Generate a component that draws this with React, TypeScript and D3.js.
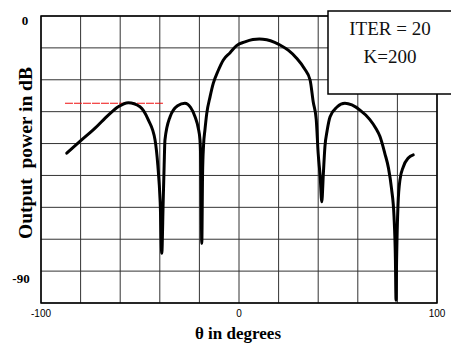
import React from "react";
import * as d3 from "d3";

const theta = [
  -87, -79.5, -72.7, -66, -61, -55.9, -50, -45.8, -42.4, -41, -39.8, -39, -38.3, -37.8, -37.4,
  -34.8, -31, -27.3, -24.5, -22.2, -20.6, -19.7, -19.2, -18.8, -18.4, -17.9, -17.2, -16.3,
  -14.6, -13, -10.5, -7.9, -4.5, -1.2, 3, 7, 10.3, 14, 18, 20.7, 25, 29.1, 33, 35.9, 37.5, 39, 40,
  41, 41.8, 42.6, 43.4, 44.5, 46, 49.5, 53.5, 57, 61.1, 66, 69, 71.2, 73.7, 75.5, 77, 78.3, 79, 79.3,
  79.6, 80.3, 81.3, 83, 85.5, 88,
];
const powerDb = [
  -47.8, -43.2, -39.1, -34.5, -31.6, -30.2, -31.6, -36.2, -43.2, -52, -65, -82.7, -65, -52, -43.2,
  -35.1, -31.3, -30.4, -31.8, -35.1, -39, -43.2, -55, -79.2, -55, -45, -39.7, -34,
  -28.1, -23.5, -19, -15.3, -12.8, -10.3, -9, -8.2, -8, -8.3, -9.2, -10.1, -12, -14.7, -18.3, -22.3, -30, -36, -48,
  -56, -64.7, -55, -45.5, -40, -35.1, -31.7, -30.4, -31, -32.8, -36, -39, -42, -48, -53, -60, -70, -85, -99,
  -85, -66, -57.1, -52.5, -49.5, -48.4,
];
const redLevel = -30.4;
const redRange = [-87.9, -37.9];
const xTicks = [-100, 0, 100];
const xGrid = [-100, -80, -60, -40, -20, 0, 20, 40, 60, 80, 100];
const yLabels = [0, -90];
const legendLines = ["ITER = 20", "K=200"];

export default function App() {
  const W = 451, H = 343;
  const x = d3.scaleLinear().domain([-100, 100]).range([41, 437]);
  const y = d3.scaleLinear().domain([-100, 0]).range([303, 16]);
  const yGrid = d3.range(10).map((i) => -(i * 100) / 9);
  const pts = theta.map((t, i) => [t, powerDb[i]] as [number, number]);
  const line = d3
    .line<[number, number]>()
    .x((d) => x(d[0]))
    .y((d) => y(d[1]))
    .curve(d3.curveMonotoneX);
  const serif = "'Liberation Serif', 'Times New Roman', serif";
  const sans = "'Liberation Sans', Arial, sans-serif";
  return (
    <svg width={W} height={H} style={{ position: "absolute", left: 0, top: 0, background: "#fff" }}>
      <rect x={0} y={0} width={W} height={H} fill="#fff" />
      {xGrid.map((g) => (
        <line key={"xg" + g} x1={x(g)} x2={x(g)} y1={y(0)} y2={y(-100)} stroke="#333" strokeWidth={1} />
      ))}
      {yGrid.map((g, i) => (
        <line key={"yg" + i} x1={x(-100)} x2={x(100)} y1={y(g)} y2={y(g)} stroke="#333" strokeWidth={1} />
      ))}
      <rect x={x(-100)} y={y(0)} width={x(100) - x(-100)} height={y(-100) - y(0)} fill="none" stroke="#000" strokeWidth={1.5} />
      <line x1={x(redRange[0])} x2={x(redRange[1])} y1={y(redLevel)} y2={y(redLevel)} stroke="#f01010" strokeWidth={1.2} strokeDasharray="8,1" />
      <path d={line(pts) || ""} fill="none" stroke="#000" strokeWidth={3} strokeLinejoin="round" strokeLinecap="round" />
      {xTicks.map((t) => (
        <text key={"xt" + t} x={x(t)} y={317} textAnchor="middle" fontFamily={sans} fontSize={10} fill="#000">
          {t}
        </text>
      ))}
      {yLabels.map((v) => (
        <text key={"yl" + v} x={v === 0 ? 25 : 21} y={y(v) + 9} textAnchor="middle" fontFamily={serif} fontWeight="bold" fontSize={13} fill="#000">
          {v}
        </text>
      ))}
      <text x={238} y={339} textAnchor="middle" fontFamily={serif} fontWeight="bold" fontSize={17} fill="#000">
        θ in degrees
      </text>
      <text transform="translate(32,153) rotate(-90)" textAnchor="middle" fontFamily={serif} fontWeight="bold" fontSize={19.5} fill="#000" style={{ whiteSpace: "pre" }}>
        Output  power in dB
      </text>
      <rect x={328} y={11} width={130} height={83} fill="#fff" stroke="#000" strokeWidth={1.5} />
      {legendLines.map((s, i) => (
        <text key={s} x={390} y={35 + i * 28} textAnchor="middle" fontFamily={serif} fontSize={19} fill="#111">
          {s}
        </text>
      ))}
    </svg>
  );
}
